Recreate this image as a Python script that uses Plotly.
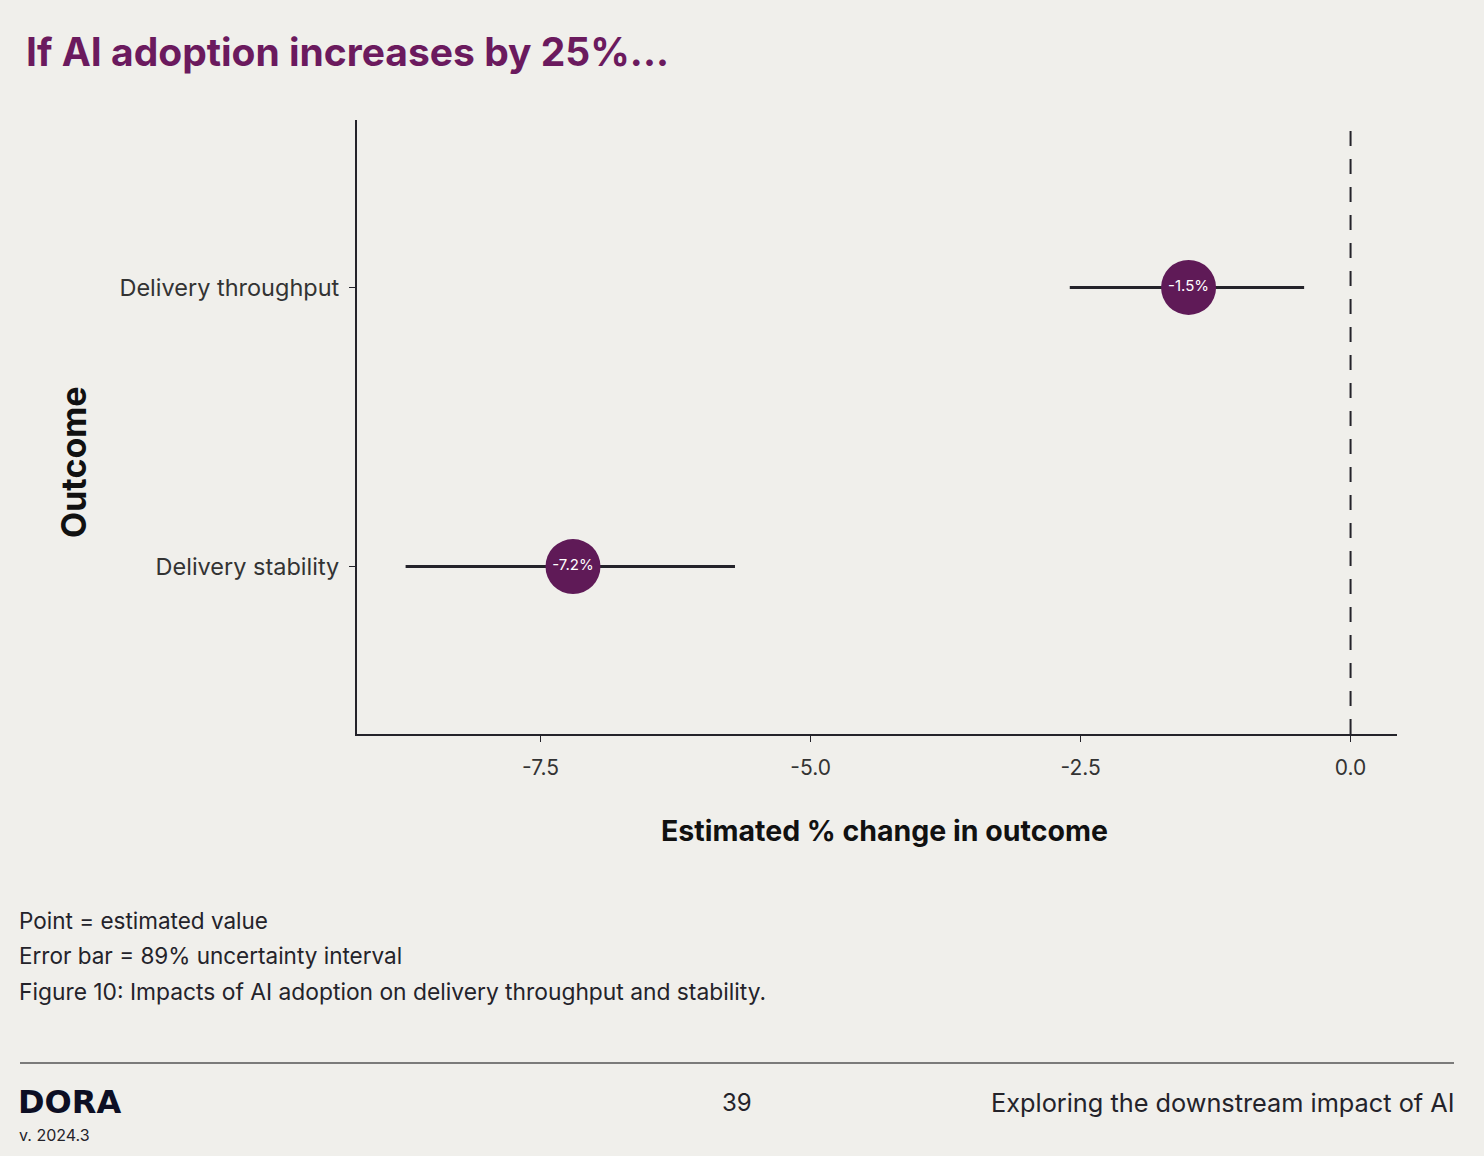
import plotly.graph_objects as go

# data
outcomes = ["Delivery stability", "Delivery throughput"]
estimates = [-7.2, -1.5]
lower = [-8.75, -2.6]
upper = [-5.7, -0.43]
point_labels = ["-7.2%", "-1.5%"]
x_ticks = [-7.5, -5.0, -2.5, 0.0]

W, H = 1484, 1156
L, R, T, B = 357, 1397, 120, 734  # plot area in pixels

bg = "#f0efeb"
purple = "#5f1a57"
ink = "#24232a"
font = "Inter"


def px(x):
    return (x - L) / (R - L)


def py(y):
    return (B - y) / (B - T)


fig = go.Figure()

fig.add_trace(go.Scatter(
    x=estimates,
    y=outcomes,
    mode="markers+text",
    text=point_labels,
    textposition="middle center",
    textfont=dict(family=font, size=15, color="white"),
    marker=dict(size=55, color=purple),
    error_x=dict(
        type="data",
        symmetric=False,
        array=[u - e for u, e in zip(upper, estimates)],
        arrayminus=[e - l for e, l in zip(estimates, lower)],
        color=ink,
        thickness=3,
        width=0,
    ),
    showlegend=False,
    hoverinfo="skip",
))

# reference line at zero
fig.add_shape(type="line", xref="x", yref="paper", x0=0, x1=0, y0=0, y1=py(122),
              line=dict(color=ink, width=2, dash="15px,13px"), layer="below")

# footer rule
fig.add_shape(type="line", xref="paper", yref="paper",
              x0=px(20), x1=px(1454), y0=py(1063), y1=py(1063),
              line=dict(color="#555555", width=1.5))

ann = []


def text(x, y, s, size, color=ink, anchor="left", bold=False, fam=font, angle=0):
    ann.append(dict(
        x=px(x), y=py(y), xref="paper", yref="paper", text=s,
        showarrow=False, xanchor=anchor, yanchor="middle", textangle=angle,
        borderpad=0, font=dict(family=fam, size=size, color=color,
                               weight="bold" if bold else "normal"),
    ))


text(25, 52, "<b>If AI adoption increases by 25%...</b>", 39, color="#6b1a5e")
text(73, 462, "<b>Outcome</b>", 34, color="#111111", anchor="center", angle=-90)
text(884, 830, "<b>Estimated % change in outcome</b>", 28.5, color="#111111", anchor="center")
text(18, 920, "Point = estimated value", 22.5)
text(18, 955, "Error bar = 89% uncertainty interval", 22.5)
text(18, 991, "Figure 10: Impacts of AI adoption on delivery throughput and stability.", 22.8)
text(17, 1102, "<b>DORA</b>", 32, color="#0d0f24", fam="DejaVu Sans")
text(18, 1135, "v. 2024.3", 16)
text(737, 1102, "39", 24, anchor="center")
text(1456, 1102, "Exploring the downstream impact of AI", 25.3, anchor="right")

fig.update_layout(
    width=W,
    height=H,
    margin=dict(l=L, r=W - R, t=T, b=H - B, pad=0),
    paper_bgcolor=bg,
    plot_bgcolor=bg,
    font=dict(family=font, color=ink),
    annotations=ann,
)

fig.update_xaxes(
    range=[-9.2, 0.43],
    tickvals=x_ticks,
    ticktext=[f"{v:.1f}" for v in x_ticks],
    showgrid=False,
    zeroline=False,
    showline=True,
    linecolor=ink,
    linewidth=2,
    ticks="outside",
    ticklen=6,
    tickcolor=ink,
    ticklabelstandoff=8,
    tickfont=dict(size=21, color="#333333"),
)

fig.update_yaxes(
    categoryorder="array",
    categoryarray=outcomes,
    range=[-0.6, 1.6],
    showgrid=False,
    zeroline=False,
    showline=True,
    linecolor=ink,
    linewidth=2,
    ticks="outside",
    ticklen=6,
    tickcolor=ink,
    ticklabelstandoff=5,
    tickfont=dict(size=23.5, color="#333333"),
)

# drop the page's default body margin so the figure sits at the window origin
fig.write_html("out.html", config={"displayModeBar": False},
               post_script="document.body.style.margin='0';"
                           "document.body.style.background='#f0efeb';")
